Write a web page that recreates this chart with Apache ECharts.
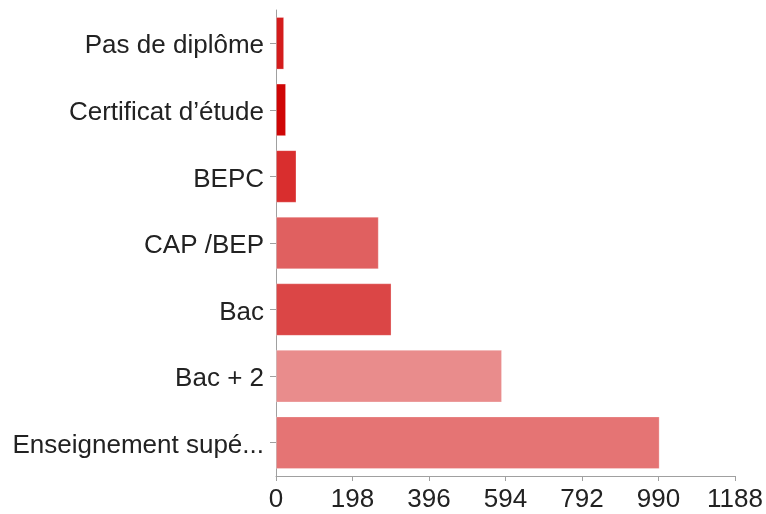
<!DOCTYPE html>
<html>
<head>
<meta charset="utf-8">
<script src="https://cdn.jsdelivr.net/npm/echarts@6/dist/echarts.min.js"></script>
<style>
  html, body { margin: 0; padding: 0; background: #fff; }
  #chart { width: 766px; height: 514px; }
</style>
</head>
<body>
<div id="chart"></div>
<script>
// catégories (de haut en bas)
const categories = ['Pas de diplôme', 'Certificat d\u2019étude', 'BEPC', 'CAP /BEP', 'Bac', 'Bac + 2', 'Enseignement supé...'];
const values = [21, 26, 53, 266, 299, 585, 993];
const barColors = ['#d41c1c', '#cf0606', '#d92e2e', '#e06060', '#db4646', '#e98c8c', '#e57474'];
const xTicks = [0, 198, 396, 594, 792, 990, 1188];

const chart = echarts.init(document.getElementById('chart'));

const option = {
  animation: false,
  textStyle: { fontFamily: '"Liberation Sans", Helvetica, Arial, sans-serif' },
  grid: { left: 276, right: 31, top: 10, bottom: 38, containLabel: false },
  xAxis: {
    type: 'value',
    min: xTicks[0],
    max: xTicks[xTicks.length - 1],
    interval: xTicks[1] - xTicks[0],
    splitLine: { show: false },
    axisLine: { show: true, lineStyle: { color: '#a0a0a0', width: 1 } },
    axisTick: { show: true, length: 5, lineStyle: { color: '#a0a0a0' } },
    axisLabel: { color: '#222', fontSize: 26, margin: 11, formatter: v => String(v) }
  },
  yAxis: {
    type: 'category',
    inverse: true,
    data: categories,
    axisLine: { show: true, lineStyle: { color: '#a0a0a0', width: 1 } },
    axisTick: { show: true, length: 6, alignWithLabel: true, lineStyle: { color: '#a0a0a0' } },
    axisLabel: { color: '#222', fontSize: 26, margin: 12, verticalAlign: 'top', lineHeight: 6 }
  },
  series: [{
    type: 'bar',
    data: values.map((v, i) => ({
      value: v,
      itemStyle: { color: barColors[i] }
    })),
    barCategoryGap: '21%',
    itemStyle: { borderColor: 'rgba(255,255,255,0.25)', borderWidth: 1 }
  }]
};

chart.setOption(option);
</script>
</body>
</html>
